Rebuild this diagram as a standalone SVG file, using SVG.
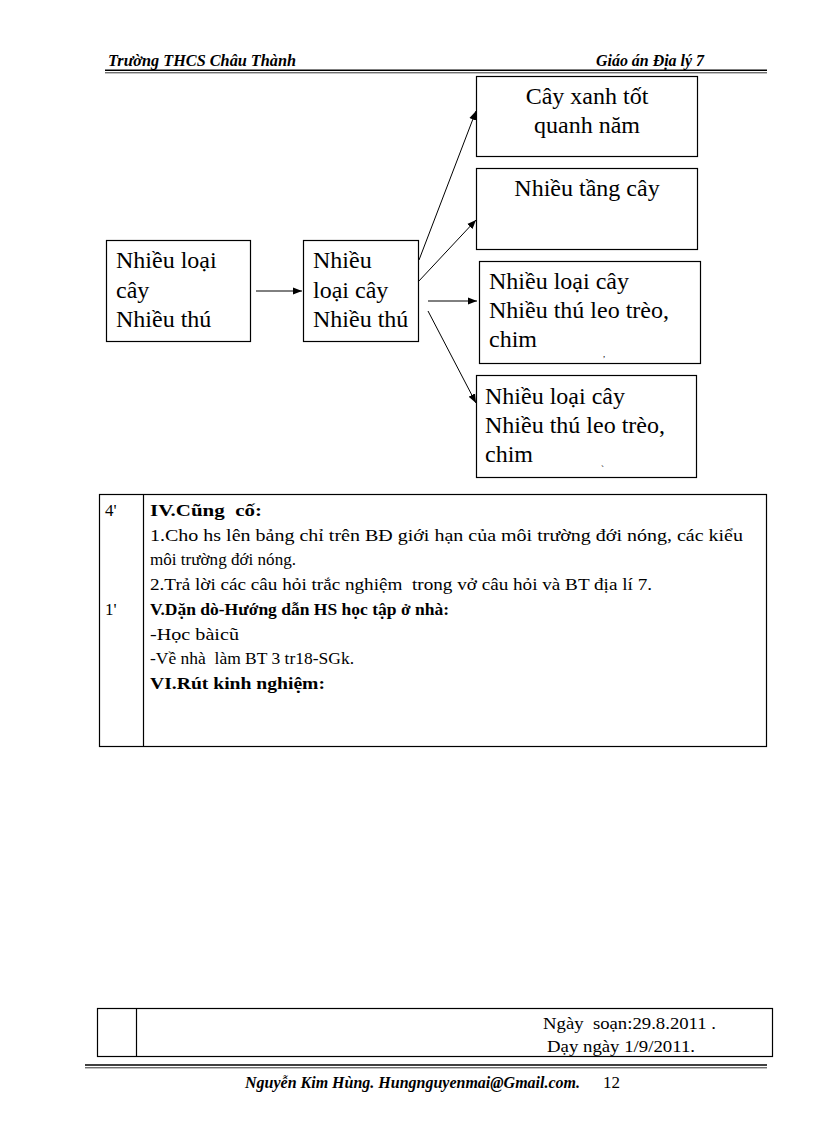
<svg xmlns="http://www.w3.org/2000/svg" width="816" height="1123" viewBox="0 0 816 1123">
<style>
text{font-family:'Liberation Serif','Times New Roman',serif;fill:#000}
.d{font-size:24px}
.b{font-size:17px}
.bb{font-size:17.5px;font-weight:bold}
.hd{font-size:16px;font-style:italic;font-weight:bold}
.box{fill:#fff;stroke:#000;stroke-width:1.2}
.cn{stroke:#000;stroke-width:1;fill:none;marker-end:url(#ah)}
.ln{stroke:#000;fill:none}
</style>
<defs>
<marker id="ah" viewBox="0 0 10 10" refX="10" refY="5" markerWidth="9" markerHeight="9" markerUnits="userSpaceOnUse" orient="auto">
<path d="M0,1 L10,5 L0,9 z" fill="#000"/>
</marker>
</defs>
<rect width="816" height="1123" fill="#fff"/>
<g id="header" font-family="Liberation Serif, serif">
<text class="hd" x="108" y="66" textLength="188" lengthAdjust="spacingAndGlyphs">Trường THCS Châu Thành</text>
<text class="hd" x="596" y="66" textLength="108" lengthAdjust="spacingAndGlyphs">Giáo án Địa lý 7</text>
<line class="ln" x1="105" y1="70.2" x2="767" y2="70.2" stroke-width="1.6"/>
<line class="ln" x1="105" y1="72.8" x2="767" y2="72.8" stroke-width="0.8" stroke="#555"/>
</g>
<g id="nodeA" font-family="Liberation Serif, serif">
<rect class="box" x="106.5" y="240.5" width="144" height="101"/>
<text class="d" x="116" y="268">Nhiều loại</text>
<text class="d" x="116" y="298">cây</text>
<text class="d" x="116" y="327">Nhiều thú</text>
</g>
<g id="nodeB" font-family="Liberation Serif, serif">
<rect class="box" x="303.5" y="240.5" width="115" height="101"/>
<text class="d" x="313" y="268">Nhiều</text>
<text class="d" x="313" y="298">loại cây</text>
<text class="d" x="313" y="327">Nhiều thú</text>
</g>
<g id="nodeC" font-family="Liberation Serif, serif">
<rect class="box" x="476.5" y="76.5" width="221" height="80"/>
<text class="d" x="587" y="104" text-anchor="middle">Cây xanh tốt</text>
<text class="d" x="587" y="133" text-anchor="middle">quanh năm</text>
</g>
<g id="nodeD" font-family="Liberation Serif, serif">
<rect class="box" x="476.5" y="168.5" width="221" height="81"/>
<text class="d" x="587" y="196" text-anchor="middle">Nhiều tầng cây</text>
</g>
<g id="nodeE" font-family="Liberation Serif, serif">
<rect class="box" x="479.5" y="261.5" width="221" height="102"/>
<text class="d" x="489" y="289">Nhiều loại cây</text>
<text class="d" x="489" y="318">Nhiều thú leo trèo,</text>
<text class="d" x="489" y="347">chim</text>
<text x="603" y="357" font-size="9">,</text>
</g>
<g id="nodeF" font-family="Liberation Serif, serif">
<rect class="box" x="476.5" y="375.5" width="220" height="102"/>
<text class="d" x="485" y="404">Nhiều loại cây</text>
<text class="d" x="485" y="433">Nhiều thú leo trèo,</text>
<text class="d" x="485" y="462">chim</text>
<text x="601" y="472" font-size="9">`</text>
</g>
<g id="connectors">
<line class="cn" x1="256" y1="291" x2="302" y2="291"/>
<line class="cn" x1="419" y1="260" x2="476" y2="111"/>
<line class="cn" x1="418" y1="282" x2="476" y2="220"/>
<line class="cn" x1="428" y1="301" x2="477" y2="301"/>
<line class="cn" x1="428" y1="311" x2="476" y2="403"/>
</g>
<g id="table1" font-family="Liberation Serif, serif">
<rect class="box" x="99.5" y="494.5" width="667" height="252"/>
<line class="ln" x1="143.5" y1="494.5" x2="143.5" y2="746.5" stroke-width="1.2"/>
<text class="b" x="105" y="516">4'</text>
<text class="bb" x="150" y="516" textLength="112" lengthAdjust="spacingAndGlyphs">IV.Cũng&#160; cố:</text>
<text class="b" x="150" y="541" textLength="593" lengthAdjust="spacingAndGlyphs">1.Cho hs lên bảng chỉ trên BĐ giới hạn của môi trường đới nóng, các kiểu</text>
<text class="b" x="150" y="565" textLength="146" lengthAdjust="spacingAndGlyphs">môi trường đới nóng.</text>
<text class="b" x="150" y="590" textLength="502" lengthAdjust="spacingAndGlyphs">2.Trả lời các câu hỏi trắc nghiệm&#160; trong vở câu hỏi và BT địa lí 7.</text>
<text class="b" x="105" y="615">1'</text>
<text class="bb" x="150" y="615" textLength="299" lengthAdjust="spacingAndGlyphs">V.Dặn dò-Hướng dẫn HS học tập ở nhà:</text>
<text class="b" x="150" y="640" textLength="89" lengthAdjust="spacingAndGlyphs">-Học bàicũ</text>
<text class="b" x="150" y="664" textLength="204" lengthAdjust="spacingAndGlyphs">-Về nhà&#160; làm BT 3 tr18-SGk.</text>
<text class="bb" x="150" y="689" textLength="175" lengthAdjust="spacingAndGlyphs">VI.Rút kinh nghiệm:</text>
</g>
<g id="table2" font-family="Liberation Serif, serif">
<rect class="box" x="97.5" y="1008.5" width="675" height="48"/>
<line class="ln" x1="136.5" y1="1008.5" x2="136.5" y2="1056.5" stroke-width="1.2"/>
<text class="b" x="543" y="1029" font-size="18" textLength="173" lengthAdjust="spacingAndGlyphs">Ngày&#160; soạn:29.8.2011 .</text>
<text class="b" x="547" y="1052" font-size="18" textLength="148" lengthAdjust="spacingAndGlyphs">Dạy ngày 1/9/2011.</text>
</g>
<g id="footer" font-family="Liberation Serif, serif">
<line class="ln" x1="85" y1="1065" x2="767" y2="1065" stroke-width="1.6"/>
<line class="ln" x1="85" y1="1067.8" x2="767" y2="1067.8" stroke-width="0.8" stroke="#555"/>
<text class="hd" x="245" y="1088" textLength="335" lengthAdjust="spacingAndGlyphs">Nguyễn Kim Hùng. Hungnguyenmai@Gmail.com.</text>
<text x="603" y="1088" font-size="17">12</text>
</g>
</svg>
